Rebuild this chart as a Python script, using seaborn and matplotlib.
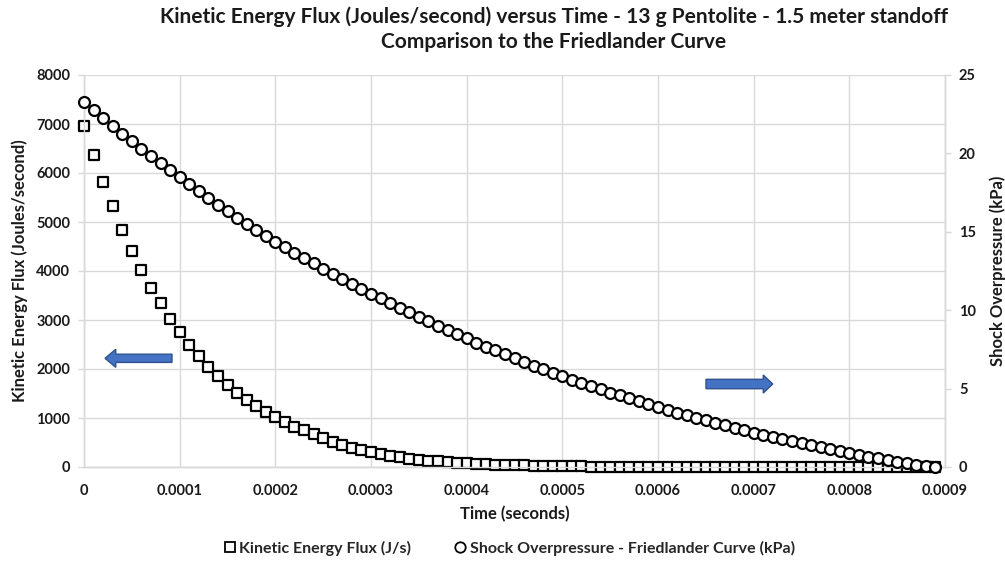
import numpy as np
import pandas as pd
import matplotlib
matplotlib.use("Agg")
import matplotlib.pyplot as plt
import matplotlib.patches as mpatches
from matplotlib.lines import Line2D
import seaborn as sns

# ---------------- data ----------------
time_step_s = 0.00001
n_points = 90
time_s = [round(i * time_step_s, 5) for i in range(n_points)]

ke_flux_js = [
    6960, 6370, 5820, 5320, 4840, 4410, 4020, 3650, 3340, 3030,
    2750, 2490, 2260, 2050, 1850, 1680, 1520, 1375, 1250, 1130,
    1015, 915, 825, 745, 665, 590, 520, 455, 395, 345,
    300, 262, 228, 198, 172, 150, 130, 113, 98, 85,
    74, 64, 56, 48, 42, 36, 31, 27, 23, 20,
    17, 14, 12, 10, 9, 7, 6, 5, 4, 4,
    3, 3, 2, 2, 2, 1, 1, 1, 1, 1,
    1, 0, 0, 0, 0, 0, 0, 0, 0, 0,
    0, 0, 0, 0, 0, 0, 0, 0, 0, 0,
]

friedlander_kpa = [
    23.30, 22.78, 22.25, 21.76, 21.26, 20.79, 20.31, 19.84, 19.38, 18.92,
    18.47, 18.02, 17.58, 17.15, 16.73, 16.31, 15.91, 15.51, 15.12, 14.74,
    14.37, 14.01, 13.66, 13.32, 12.98, 12.65, 12.32, 12.00, 11.68, 11.36,
    11.05, 10.75, 10.45, 10.15, 9.86, 9.57, 9.29, 9.01, 8.74, 8.47,
    8.20, 7.94, 7.68, 7.43, 7.18, 6.94, 6.70, 6.47, 6.24, 6.01,
    5.79, 5.57, 5.36, 5.15, 4.95, 4.75, 4.56, 4.37, 4.18, 4.00,
    3.82, 3.64, 3.47, 3.30, 3.13, 2.97, 2.81, 2.65, 2.50, 2.35,
    2.20, 2.06, 1.92, 1.78, 1.64, 1.51, 1.38, 1.25, 1.13, 1.01,
    0.89, 0.77, 0.66, 0.55, 0.44, 0.34, 0.24, 0.14, 0.05, 0.00,
]

x_ticks = [0, 0.0001, 0.0002, 0.0003, 0.0004, 0.0005, 0.0006, 0.0007, 0.0008, 0.0009]
x_tick_labels = ["0", "0.0001", "0.0002", "0.0003", "0.0004", "0.0005",
                 "0.0006", "0.0007", "0.0008", "0.0009"]
left_ticks = [0, 1000, 2000, 3000, 4000, 5000, 6000, 7000, 8000]
right_ticks = [0, 5, 10, 15, 20, 25]

title_text = ("Kinetic Energy Flux (Joules/second) versus Time - 13 g Pentolite - 1.5 meter standoff\n"
              "Comparison to the Friedlander Curve")
label_ke = "Kinetic Energy Flux (J/s)"
label_fr = "Shock Overpressure - Friedlander Curve (kPa)"

df = pd.DataFrame({"time": time_s, "ke": ke_flux_js, "fr": friedlander_kpa})

# ---------------- style ----------------
sns.set_theme(style="white")
plt.rcParams["font.family"] = ["Lato", "DejaVu Sans"]

grid_col = "#d9d9d9"
text_col = "#1a1a1a"

fig = plt.figure(figsize=(10.05, 5.73), dpi=100)
ax = fig.add_axes([84 / 1005, 1 - 467 / 573, (945 - 84) / 1005, (467 - 75) / 573])
ax2 = ax.twinx()

ax.set_axisbelow(True)
ax.grid(True, color=grid_col, linewidth=1.0)

sns.scatterplot(data=df, x="time", y="ke", ax=ax, marker="s", s=60,
                facecolor="white", edgecolor="black", linewidth=1.6,
                clip_on=False, zorder=3, legend=False)
sns.scatterplot(data=df, x="time", y="fr", ax=ax2, marker="o", s=62,
                facecolor="white", edgecolor="black", linewidth=1.6,
                clip_on=False, zorder=3, legend=False)

ax.set_xlim(0, 0.0009)
ax.set_ylim(0, 8000)
ax2.set_ylim(0, 25)
ax.set_xticks(x_ticks)
ax.set_xticklabels(x_tick_labels)
ax.set_yticks(left_ticks)
ax2.set_yticks(right_ticks)
ax2.grid(False)

for a in (ax, ax2):
    for sp in a.spines.values():
        sp.set_color(grid_col)
        sp.set_linewidth(1.0)
    a.spines["top"].set_visible(False)
    a.tick_params(axis="both", colors=grid_col, labelcolor=text_col,
                  labelsize=10.5, length=4, width=1.0, direction="out")
    for lab in a.get_xticklabels() + a.get_yticklabels():
        lab.set_fontweight("bold")
ax.tick_params(axis="x", pad=8)
ax.tick_params(axis="y", pad=6)
ax2.tick_params(axis="y", pad=6)

ax.set_xlabel("Time (seconds)", fontsize=12, fontweight="bold", color=text_col, labelpad=6)
ax.set_ylabel("Kinetic Energy Flux (Joules/second)", fontsize=12, fontweight="bold",
              color=text_col, labelpad=6)
ax2.set_ylabel("Shock Overpressure (kPa)", fontsize=12, fontweight="bold",
               color=text_col, labelpad=10)

fig.text(0.551, 0.988, title_text, ha="center", va="top", fontsize=15,
         fontweight="bold", color=text_col, linespacing=1.3)

# direction arrows
arrow_kw = dict(transform=ax.transAxes, facecolor="#4472c4", edgecolor="#2f528f",
                linewidth=1.0, length_includes_head=True, zorder=4, clip_on=False)
ax.add_patch(mpatches.FancyArrow(0.1022, 0.2773, 0.0244 - 0.1022, 0,
                                 width=0.021, head_width=0.046, head_length=0.0125, **arrow_kw))
ax.add_patch(mpatches.FancyArrow(0.7224, 0.2117, 0.7999 - 0.7224, 0,
                                 width=0.024, head_width=0.046, head_length=0.011, **arrow_kw))

# legend
handles = [
    Line2D([], [], linestyle="none", marker="s", markersize=7.5, markerfacecolor="white",
           markeredgecolor="black", markeredgewidth=1.3, label=label_ke),
    Line2D([], [], linestyle="none", marker="o", markersize=7.5, markerfacecolor="white",
           markeredgecolor="black", markeredgewidth=1.3, label=label_fr),
]
fig.legend(handles=handles, loc="center", bbox_to_anchor=(0.506, 1 - 548 / 573), ncol=2,
           frameon=False, prop={"size": 11.5, "weight": "bold"}, handletextpad=0.15,
           columnspacing=2.6, handlelength=0.9)

fig.savefig("out.png", dpi=100)
